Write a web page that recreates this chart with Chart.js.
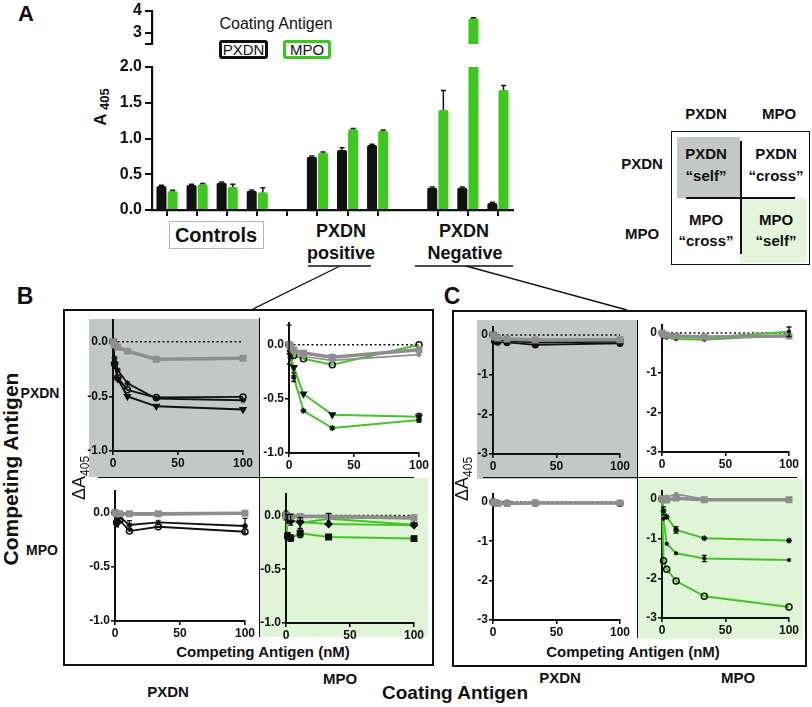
<!DOCTYPE html>
<html><head><meta charset="utf-8">
<script src="https://cdn.jsdelivr.net/npm/chart.js@4.4.1/dist/chart.umd.min.js"></script>
<style>
html,body{margin:0;padding:0;background:#fff;}
body{width:812px;height:707px;position:relative;overflow:hidden;font-family:'Liberation Sans',Arial,sans-serif;color:#111;}
.t{position:absolute;transform:translate(-50%,-50%);white-space:nowrap;font-weight:bold;color:#111;line-height:1;}
.r{position:absolute;}
canvas{position:absolute;z-index:2;}
.bg{position:absolute;z-index:0;}
.ln{position:absolute;z-index:1;background:#111;}
</style></head><body>

<!-- Panel A texts -->
<div class="t" style="left:26px;top:14px;font-size:22px">A</div>
<div class="t" style="left:100px;top:107px;transform:translate(-50%,-50%) rotate(-90deg);font-size:17px">A<span style="font-size:13px;position:relative;top:3px"> 405</span></div>
<div class="t" style="left:276px;top:24px;font-size:16px;font-weight:normal">Coating Antigen</div>
<div class="r" style="left:219px;top:40px;width:49px;height:19px;box-sizing:border-box;border:3px solid #111;border-radius:3px;font-size:15px;line-height:14px;text-align:center;">PXDN</div>
<div class="r" style="left:283px;top:40px;width:48px;height:19px;box-sizing:border-box;border:3px solid #3ec81f;border-radius:3px;font-size:15px;line-height:14px;text-align:center;">MPO</div>
<div class="r" style="left:169px;top:221px;width:95px;height:28px;box-sizing:border-box;border:1.5px solid #b5b5b5;"></div>
<div class="t" style="left:216px;top:235px;font-size:20px">Controls</div>
<div class="t" style="left:341px;top:231px;font-size:18px">PXDN</div>
<div class="t" style="left:341px;top:253px;font-size:18px">positive</div>
<div class="t" style="left:464px;top:231px;font-size:18px">PXDN</div>
<div class="t" style="left:465px;top:253px;font-size:18px">Negative</div>
<svg class="r" style="left:0;top:0;z-index:1" width="812" height="707">
  <line x1="308" y1="266" x2="371" y2="266" stroke="#111" stroke-width="1.5"/>
  <line x1="415" y1="266" x2="513" y2="266" stroke="#111" stroke-width="1.5"/>
  <line x1="340" y1="266" x2="253" y2="309" stroke="#111" stroke-width="1.3"/>
  <line x1="466" y1="266" x2="627" y2="310" stroke="#111" stroke-width="1.3"/>
</svg>

<!-- Table -->
<div class="t" style="left:706px;top:113px;font-size:15px">PXDN</div>
<div class="t" style="left:779px;top:113px;font-size:15px">MPO</div>
<div class="t" style="left:642px;top:163px;font-size:15px">PXDN</div>
<div class="t" style="left:642px;top:233px;font-size:15px">MPO</div>
<div class="r" style="left:671px;top:131px;width:139px;height:134px;box-sizing:border-box;border:1.5px solid #111;"></div>
<div class="bg" style="left:677px;top:137px;width:63px;height:61px;background:#c3c7c5"></div>
<div class="bg" style="left:740px;top:198px;width:67px;height:65px;background:#e4f5dc"></div>
<div class="ln" style="left:740px;top:141px;width:1.5px;height:113px"></div>
<div class="ln" style="left:686px;top:197px;width:109px;height:1.5px"></div>
<div class="t" style="left:706px;top:153px;font-size:15px;z-index:2">PXDN</div>
<div class="t" style="left:706px;top:175px;font-size:15px;z-index:2">“self”</div>
<div class="t" style="left:776px;top:153px;font-size:15px;z-index:2">PXDN</div>
<div class="t" style="left:776px;top:175px;font-size:15px;z-index:2">“cross”</div>
<div class="t" style="left:706px;top:219px;font-size:15px;z-index:2">MPO</div>
<div class="t" style="left:706px;top:240px;font-size:15px;z-index:2">“cross”</div>
<div class="t" style="left:776px;top:219px;font-size:15px;z-index:2">MPO</div>
<div class="t" style="left:776px;top:240px;font-size:15px;z-index:2">“self”</div>

<!-- Panel B frame -->
<div class="t" style="left:25px;top:296px;font-size:23px">B</div>
<div class="r" style="left:63px;top:309px;width:371px;height:357px;box-sizing:border-box;border:2px solid #111;"></div>
<div class="bg" style="left:89px;top:319px;width:170px;height:158px;background:#c3c7c5"></div>
<div class="bg" style="left:260px;top:478px;width:168px;height:159px;background:#e0f4d8"></div>
<div class="ln" style="left:258.5px;top:318px;width:1.5px;height:319px"></div>
<div class="ln" style="left:98px;top:476.5px;width:316px;height:1.5px"></div>
<div class="t" style="left:40px;top:393px;font-size:14px">PXDN</div>
<div class="t" style="left:42px;top:550px;font-size:14px">MPO</div>
<div class="t" style="left:79px;top:478px;transform:translate(-50%,-50%) rotate(-90deg);font-size:18px;font-weight:normal;z-index:3">ΔA<span style="font-size:12px;position:relative;top:4px">405</span></div>
<div class="t" style="left:263px;top:651px;font-size:15px">Competing Antigen (nM)</div>
<div class="t" style="left:168px;top:691px;font-size:15px">PXDN</div>
<div class="t" style="left:340px;top:678px;font-size:15px">MPO</div>
<div class="t" style="left:10px;top:469px;transform:translate(-50%,-50%) rotate(-90deg);font-size:21px">Competing Antigen</div>

<!-- Panel C frame -->
<div class="t" style="left:452px;top:296px;font-size:23px">C</div>
<div class="r" style="left:452px;top:310px;width:355px;height:357px;box-sizing:border-box;border:2px solid #111;"></div>
<div class="bg" style="left:477px;top:320px;width:160px;height:159px;background:#c3c7c5"></div>
<div class="bg" style="left:637px;top:479px;width:166px;height:160px;background:#e0f4d8"></div>
<div class="ln" style="left:636.5px;top:320px;width:1.5px;height:318px"></div>
<div class="ln" style="left:483px;top:476.5px;width:314px;height:1.5px"></div>
<div class="t" style="left:462px;top:479px;transform:translate(-50%,-50%) rotate(-90deg);font-size:18px;font-weight:normal;z-index:3">ΔA<span style="font-size:12px;position:relative;top:4px">405</span></div>
<div class="t" style="left:633px;top:651px;font-size:15px">Competing Antigen (nM)</div>
<div class="t" style="left:560px;top:677px;font-size:15px">PXDN</div>
<div class="t" style="left:738px;top:677px;font-size:15px">MPO</div>
<div class="t" style="left:455px;top:692px;font-size:19px">Coating Antigen</div>

<canvas id="barTop"></canvas>
<canvas id="barLow"></canvas>
<canvas id="bTL"></canvas><canvas id="bTR"></canvas><canvas id="bBL"></canvas><canvas id="bBR"></canvas>
<canvas id="cTL"></canvas><canvas id="cTR"></canvas><canvas id="cBL"></canvas><canvas id="cBR"></canvas>

<script>
// ===== Panel A data =====
const barCategories = ['Control 1','Control 2','Control 3','Control 4',' ','PXDN+ 1','PXDN+ 2','PXDN+ 3','  ','PXDN- 1','PXDN- 2','PXDN- 3'];
const pxdnCoating    = [0.335, 0.35, 0.38, 0.27, null, 0.745, 0.84, 0.91, null, 0.31, 0.31, 0.097];
const mpoCoating     = [0.266, 0.36, 0.32, 0.25, null, 0.80, 1.13, 1.11, null, 1.40, 3.67, 1.68];
const pxdnCoatingErr = [0.01, 0.01, 0.01, 0.01, null, 0.01, 0.03, 0.01, null, 0.01, 0.01, 0.01];
const mpoCoatingErr  = [0.01, 0.01, 0.04, 0.06, null, 0.01, 0.01, 0.01, null, 0.27, 0.02, 0.06];
const barLowTicks = [0, 0.5, 1.0, 1.5, 2.0];
const barTopTicks = [2.5, 3, 4];

// ===== Panels B/C data =====
const concentrationsNM = [0, 1.2, 3.7, 11.1, 33.3, 100];
const xTickValues = [0, 50, 100];
const bTickValues = [-1.0, -0.5, 0.0];
const cTickValues = [-3, -2, -1, 0];

// B: PXDN-positive sera
const bSelfPXDN_gray     = [0, -0.03, -0.05, -0.085, -0.16, -0.15];
const bSelfPXDN_circle   = [0, -0.20, -0.33, -0.44, -0.51, -0.505];
const bSelfPXDN_triangle = [0, -0.21, -0.34, -0.50, -0.59, -0.62];
const bSelfPXDN_star     = [0, -0.15, -0.26, -0.38, -0.52, -0.535];

const bCrossPXDN_gray     = [0, -0.02, -0.05, -0.077, -0.115, -0.046];
const bCrossPXDN_grayThin = [0, -0.03, -0.07, -0.11, -0.145, -0.092];
const bCrossPXDN_circle   = [0, -0.05, -0.10, -0.13, -0.185, 0.0];
const bCrossPXDN_triangle = [0, -0.10, -0.21, -0.455, -0.646, -0.665];
const bCrossPXDN_star     = [0, -0.12, -0.30, -0.61, -0.77, -0.695];
const bCrossPXDN_triErr   = [0.18, null, null, null, null, 0.03];
const bCrossPXDN_starErr  = [null, null, 0.04, null, null, 0.02];

const bCrossMPO_gray     = [0, -0.01, -0.01, -0.01, -0.01, -0.005];
const bCrossMPO_grayThin = [0, -0.02, -0.02, -0.02, -0.02, -0.01];
const bCrossMPO_circle   = [0, -0.09, -0.07, -0.17, -0.13, -0.176];
const bCrossMPO_star     = [0, -0.10, -0.04, -0.114, -0.09, -0.123];
const bCrossMPO_starErr  = [null, 0.03, null, 0.04, null, 0.07];

const bSelfMPO_gray      = [0, -0.01, -0.01, -0.01, -0.01, -0.02];
const bSelfMPO_grayThin  = [0, 0.0, -0.01, -0.01, -0.02, -0.03];
const bSelfMPO_diamond   = [0, -0.02, -0.05, -0.06, -0.08, -0.09];
const bSelfMPO_triangle  = [0, -0.03, -0.04, -0.07, -0.03, -0.085];
const bSelfMPO_square    = [0, -0.19, -0.21, -0.165, -0.20, -0.215];
const bSelfMPO_squareErr = [null, 0.03, 0.03, 0.04, null, 0.02];
const bSelfMPO_triErr    = [0.04, 0.04, 0.05, 0.05, 0.05, null];

// C: PXDN-negative sera
const cSelfPXDN_black1 = [0, -0.15, -0.18, -0.19, -0.25, -0.21];
const cSelfPXDN_black2 = [0, -0.08, -0.12, -0.15, -0.19, -0.17];
const cSelfPXDN_gray   = [0, -0.05, -0.08, -0.10, -0.13, -0.12];

const cCrossPXDN_green1 = [0, -0.05, -0.08, -0.10, -0.12, 0.03];
const cCrossPXDN_green2 = [0, -0.10, -0.12, -0.15, -0.17, -0.05];
const cCrossPXDN_gray   = [0, -0.04, -0.06, -0.08, -0.10, -0.08];
const cCrossPXDN_g1Err  = [null, null, null, null, null, 0.12];

const cCrossMPO_black = [0, -0.02, -0.03, -0.03, -0.03, -0.04];
const cCrossMPO_gray  = [0, -0.03, -0.04, -0.04, -0.03, -0.03];

const cSelfMPO_gray     = [0, 0.0, -0.03, 0.02, -0.02, -0.02];
const cSelfMPO_grayThin = [0, 0.02, 0.05, 0.12, 0.0, 0.0];
const cSelfMPO_star     = [0, -0.30, -0.45, -0.78, -0.99, -1.05];
const cSelfMPO_dot      = [0, -0.50, -1.13, -1.37, -1.50, -1.54];
const cSelfMPO_circle   = [0, -1.56, -1.77, -2.07, -2.45, -2.72];
const cSelfMPO_starErr  = [null, 0.10, null, 0.08, null, null];
const cSelfMPO_dotErr   = [null, null, null, null, 0.08, null];

// ===== rendering =====
const FONT = "'Liberation Sans', Arial, sans-serif";
Chart.defaults.font.family = FONT;
Chart.defaults.color = '#111';
const INK = '#111', GRAY = '#8e8e8e', GREEN = '#45c42a', BARGREEN = '#3ec81f';

const errorBarPlugin = {
  id: 'errbars',
  afterDatasetsDraw(chart) {
    const ctx = chart.ctx, a = chart.chartArea;
    chart.data.datasets.forEach((ds, i) => {
      if (!ds.errors) return;
      const meta = chart.getDatasetMeta(i);
      const ys = chart.scales[meta.yAxisID];
      meta.data.forEach((el, j) => {
        const e = ds.errors[j];
        const raw = ds.data[j];
        const v = (raw && typeof raw === 'object') ? raw.y : raw;
        if (e == null || v == null) return;
        const yv = ys.getPixelForValue(v);
        if (yv < a.top - 2 || yv > a.bottom + 2) return;
        const yu = ys.getPixelForValue(v + e);
        const yd = ds.errUpOnly ? yv : ys.getPixelForValue(v - e);
        const cap = ds.capW || 3;
        ctx.save();
        ctx.strokeStyle = INK; ctx.lineWidth = ds.errW || 1.5;
        ctx.beginPath();
        ctx.moveTo(el.x, yd); ctx.lineTo(el.x, yu);
        ctx.moveTo(el.x - cap, yu); ctx.lineTo(el.x + cap, yu);
        if (!ds.errUpOnly) { ctx.moveTo(el.x - cap, yd); ctx.lineTo(el.x + cap, yd); }
        ctx.stroke();
        ctx.restore();
      });
    });
  }
};

function fixSize(dim, size) {
  return function (s) { s[dim] = size; s.paddingTop = 0; s.paddingBottom = 0; s.paddingLeft = 0; s.paddingRight = 0; };
}

function place(id, area, pad) {
  const cv = document.getElementById(id);
  const w = Math.round(area.r - area.l) + pad.l + pad.r;
  const h = Math.round(area.b - area.t) + pad.t + pad.b;
  cv.width = w; cv.height = h;
  cv.style.width = w + 'px'; cv.style.height = h + 'px';
  cv.style.left = (area.l - pad.l) + 'px';
  cv.style.top = (area.t - pad.t) + 'px';
  return cv;
}

// ---- Panel A bar charts (broken axis) ----
function barChart(id, area, ymin, ymax, ticks, fmt, showX, pad) {
  const cv = place(id, area, pad);
  new Chart(cv, {
    type: 'bar',
    data: {
      labels: barCategories,
      datasets: [
        { label: 'PXDN', data: pxdnCoating, errors: pxdnCoatingErr, errUpOnly: true, capW: 2.5,
          backgroundColor: INK, clip: 0, borderRadius: {topLeft: 2, topRight: 2}, borderSkipped: 'start' },
        { label: 'MPO', data: mpoCoating, errors: mpoCoatingErr, errUpOnly: true, capW: 2.5,
          backgroundColor: BARGREEN, clip: 0, borderRadius: {topLeft: 2, topRight: 2}, borderSkipped: 'start' }
      ]
    },
    options: {
      responsive: false, devicePixelRatio: 1, animation: false,
      barPercentage: 0.9, categoryPercentage: 0.74,
      layout: { padding: { left: 0, top: pad.t, right: pad.r, bottom: showX ? 0 : pad.b } },
      plugins: { legend: { display: false }, tooltip: { enabled: false } },
      scales: {
        x: {
          display: showX,
          type: 'category',
          ticks: { display: false, autoSkip: false },
          grid: { offset: false, drawOnChartArea: false, drawTicks: true, tickLength: 6, lineWidth: 2,
                  tickColor: (c) => (c.index === 8 ? 'rgba(0,0,0,0)' : INK) },
          border: { display: true, color: INK, width: 2.2 },
          afterFit: fixSize('height', pad.b)
        },
        y: {
          min: ymin, max: ymax,
          afterBuildTicks: (s) => { s.ticks = ticks.map(v => ({ value: v })); },
          ticks: { font: { size: 16, weight: 'bold' }, padding: 3, color: INK, callback: fmt, autoSkip: false },
          grid: { drawOnChartArea: false, drawTicks: true, tickLength: 7, color: INK, lineWidth: 2 },
          border: { display: true, color: INK, width: 2.2 },
          afterFit: fixSize('width', pad.l)
        }
      }
    },
    plugins: [errorBarPlugin]
  });
}
barChart('barLow', { l: 152, r: 513, t: 67, b: 210 }, 0, 2, barLowTicks, (v) => v.toFixed(1), true,
         { l: 60, r: 8, t: 12, b: 10 });
barChart('barTop', { l: 152, r: 513, t: 11, b: 48 }, 2.5, 4, barTopTicks, (v) => (v === 2.5 ? '' : String(v)), false,
         { l: 60, r: 8, t: 9, b: 4 });

// ---- Panels B/C line charts ----
function series(vals, kind, marker, errs) {
  const d = {
    data: concentrationsNM.map((c, i) => ({ x: c, y: vals[i] })),
    tension: 0, clip: false, errors: errs || null, capW: 2.5, errW: 1.3,
    pointBorderWidth: 1.3
  };
  if (kind === 'gray') Object.assign(d, { borderColor: GRAY, borderWidth: 3.5 });
  else if (kind === 'grayThin') Object.assign(d, { borderColor: GRAY, borderWidth: 1.6 });
  else if (kind === 'green') Object.assign(d, { borderColor: GREEN, borderWidth: 2 });
  else Object.assign(d, { borderColor: INK, borderWidth: 1.8 });
  const mk = {
    rectGray:  { pointStyle: 'rect', pointRadius: 4, pointBackgroundColor: GRAY, pointBorderColor: GRAY },
    dotGray:   { pointStyle: 'circle', pointRadius: 1.8, pointBackgroundColor: GRAY, pointBorderColor: GRAY },
    circle:    { pointStyle: 'circle', pointRadius: 3, pointBackgroundColor: 'rgba(0,0,0,0)', pointBorderColor: INK, pointBorderWidth: 1.5 },
    disc:      { pointStyle: 'circle', pointRadius: 3, pointBackgroundColor: INK, pointBorderColor: INK },
    triangle:  { pointStyle: 'triangle', pointRotation: 180, pointRadius: 3.5, pointBackgroundColor: INK, pointBorderColor: INK },
    star:      { pointStyle: 'star', pointRadius: 3, pointBackgroundColor: INK, pointBorderColor: INK },
    rect:      { pointStyle: 'rect', pointRadius: 4, pointBackgroundColor: INK, pointBorderColor: INK },
    diamond:   { pointStyle: 'rectRot', pointRadius: 3.5, pointBackgroundColor: INK, pointBorderColor: INK },
    dot:       { pointStyle: 'circle', pointRadius: 1.5, pointBackgroundColor: INK, pointBorderColor: INK }
  };
  Object.assign(d, mk[marker]);
  return d;
}
function zeroLine() {
  return {
    data: [{ x: concentrationsNM[0], y: 0 }, { x: concentrationsNM[concentrationsNM.length - 1], y: 0 }],
    borderColor: INK, borderWidth: 1.5, borderDash: [2, 2.5], pointRadius: 0, clip: false
  };
}

function lineChart(id, area, ymin, ymax, yTicks, fmt, datasets) {
  const pad = { l: 44, r: 14, t: 10, b: 22 };
  const cv = place(id, area, pad);
  const axisGrid = { drawOnChartArea: false, drawTicks: true, tickLength: 4, color: INK, lineWidth: 1.6 };
  const axisBorder = { display: true, color: INK, width: 2 };
  new Chart(cv, {
    type: 'line',
    data: { datasets },
    options: {
      responsive: false, devicePixelRatio: 1, animation: false,
      layout: { padding: { left: 0, top: pad.t, right: pad.r, bottom: 0 } },
      plugins: { legend: { display: false }, tooltip: { enabled: false } },
      scales: {
        x: {
          type: 'linear', min: 0, max: 100,
          afterBuildTicks: (s) => { s.ticks = xTickValues.map(v => ({ value: v })); },
          ticks: { font: { size: 12, weight: 'bold' }, padding: 1, maxRotation: 0, autoSkip: false, color: INK, callback: (v) => String(v) },
          grid: axisGrid, border: axisBorder,
          afterFit: fixSize('height', pad.b)
        },
        y: {
          type: 'linear', min: ymin, max: ymax,
          afterBuildTicks: (s) => { s.ticks = yTicks.map(v => ({ value: v })); },
          ticks: { font: { size: 12, weight: 'bold' }, padding: 1, autoSkip: false, color: INK, callback: fmt },
          grid: axisGrid, border: axisBorder,
          afterFit: fixSize('width', pad.l)
        }
      }
    },
    plugins: [errorBarPlugin]
  });
}
const fmtB = (v) => v.toFixed(1);
const fmtC = (v) => String(Math.round(v));

lineChart('bTL', { l: 113, r: 243, t: 320, b: 451 }, -1, 0.2, bTickValues, fmtB, [
  series(bSelfPXDN_gray, 'gray', 'rectGray'),
  series(bSelfPXDN_circle, 'black', 'circle'),
  series(bSelfPXDN_triangle, 'black', 'triangle'),
  series(bSelfPXDN_star, 'black', 'star'),
  zeroLine()
]);
lineChart('bTR', { l: 289, r: 419, t: 323, b: 453 }, -1, 0.2, bTickValues, fmtB, [
  series(bCrossPXDN_gray, 'gray', 'rectGray'),
  series(bCrossPXDN_grayThin, 'grayThin', 'dotGray'),
  series(bCrossPXDN_circle, 'green', 'circle'),
  series(bCrossPXDN_triangle, 'green', 'triangle', bCrossPXDN_triErr),
  series(bCrossPXDN_star, 'green', 'star', bCrossPXDN_starErr),
  zeroLine()
]);
lineChart('bBL', { l: 115, r: 245, t: 491, b: 621 }, -1, 0.2, bTickValues, fmtB, [
  series(bCrossMPO_gray, 'gray', 'rectGray'),
  series(bCrossMPO_grayThin, 'grayThin', 'dotGray'),
  series(bCrossMPO_circle, 'black', 'circle'),
  series(bCrossMPO_star, 'black', 'star', bCrossMPO_starErr),
  zeroLine()
]);
lineChart('bBR', { l: 286, r: 414, t: 494, b: 623 }, -1, 0.2, bTickValues, fmtB, [
  series(bSelfMPO_gray, 'gray', 'rectGray'),
  series(bSelfMPO_grayThin, 'grayThin', 'dotGray'),
  series(bSelfMPO_diamond, 'green', 'diamond'),
  series(bSelfMPO_triangle, 'green', 'triangle', bSelfMPO_triErr),
  series(bSelfMPO_square, 'green', 'rect', bSelfMPO_squareErr),
  zeroLine()
]);

lineChart('cTL', { l: 493, r: 620, t: 327, b: 454 }, -3, 0.2, cTickValues, fmtC, [
  series(cSelfPXDN_gray, 'gray', 'rectGray'),
  series(cSelfPXDN_black1, 'black', 'disc'),
  series(cSelfPXDN_black2, 'black', 'triangle'),
  zeroLine()
]);
lineChart('cTR', { l: 662, r: 789, t: 325, b: 452 }, -3, 0.2, cTickValues, fmtC, [
  series(cCrossPXDN_gray, 'gray', 'rectGray'),
  series(cCrossPXDN_green1, 'green', 'dot', cCrossPXDN_g1Err),
  series(cCrossPXDN_green2, 'green', 'dot'),
  zeroLine()
]);
lineChart('cBL', { l: 493, r: 620, t: 494, b: 620 }, -3, 0.2, cTickValues, fmtC, [
  series(cCrossMPO_gray, 'gray', 'rectGray'),
  series(cCrossMPO_black, 'black', 'disc'),
  zeroLine()
]);
lineChart('cBR', { l: 662, r: 789, t: 491, b: 618 }, -3, 0.2, cTickValues, fmtC, [
  series(cSelfMPO_gray, 'gray', 'rectGray'),
  series(cSelfMPO_grayThin, 'grayThin', 'dotGray'),
  series(cSelfMPO_star, 'green', 'star', cSelfMPO_starErr),
  series(cSelfMPO_dot, 'green', 'dot', cSelfMPO_dotErr),
  series(cSelfMPO_circle, 'green', 'circle')
]);
</script>
</body></html>
